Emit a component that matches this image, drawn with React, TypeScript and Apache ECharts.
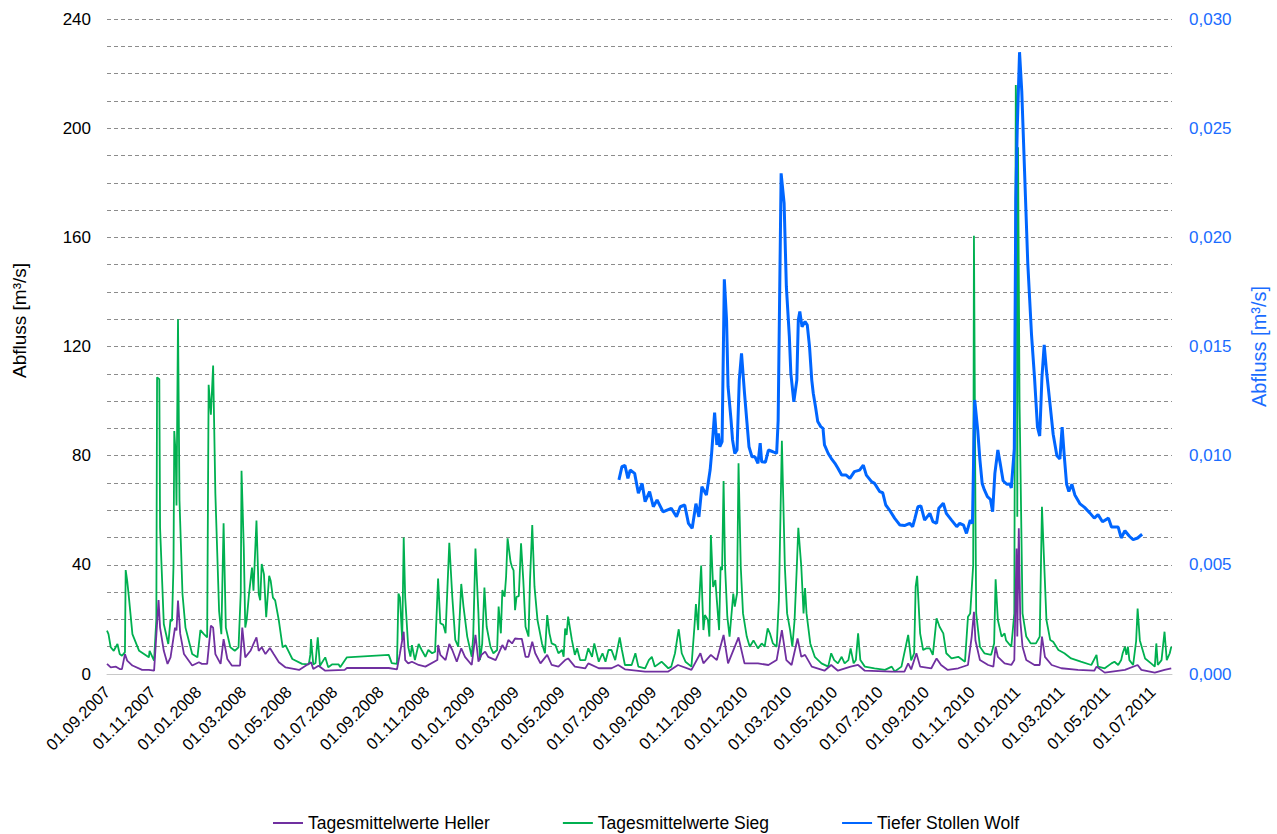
import React, { useEffect, useRef } from "react";
import * as echarts from "echarts";

// ---- tick labels (every two months) ----
const xTickLabels = [
  "01.09.2007", "01.11.2007", "01.01.2008", "01.03.2008", "01.05.2008", "01.07.2008",
  "01.09.2008", "01.11.2008", "01.01.2009", "01.03.2009", "01.05.2009", "01.07.2009",
  "01.09.2009", "01.11.2009", "01.01.2010", "01.03.2010", "01.05.2010", "01.07.2010",
  "01.09.2010", "01.11.2010", "01.01.2011", "01.03.2011", "01.05.2011", "01.07.2011",
];
const xMin = "2007-09-01";
const xMax = "2011-07-27";

// ---- Tagesmittelwerte Sieg [m³/s] ----
const siegDates = [
  "2007-09-01","2007-09-03","2007-09-06","2007-09-10","2007-09-15","2007-09-18","2007-09-21","2007-09-25","2007-09-26","2007-09-28",
  "2007-09-30","2007-10-05","2007-10-14","2007-10-27","2007-10-28","2007-11-03","2007-11-06","2007-11-07","2007-11-10","2007-11-11",
  "2007-11-16","2007-11-22","2007-11-25","2007-11-27","2007-11-29","2007-11-30","2007-12-02","2007-12-03","2007-12-05","2007-12-07",
  "2007-12-11","2007-12-15","2007-12-24","2007-12-31","2008-01-04","2008-01-08","2008-01-13","2008-01-15","2008-01-18","2008-01-21",
  "2008-01-24","2008-01-29","2008-02-01","2008-02-04","2008-02-07","2008-02-13","2008-02-19","2008-02-24","2008-02-27","2008-02-28",
  "2008-03-02","2008-03-04","2008-03-06","2008-03-09","2008-03-13","2008-03-15","2008-03-19","2008-03-22","2008-03-24","2008-03-26",
  "2008-03-29","2008-04-01","2008-04-05","2008-04-07","2008-04-10","2008-04-13","2008-04-18","2008-04-23","2008-04-27","2008-05-06",
  "2008-05-19","2008-05-28","2008-05-30","2008-05-31","2008-06-03","2008-06-06","2008-06-09","2008-06-12","2008-06-19","2008-06-23",
  "2008-06-28","2008-07-07","2008-07-09","2008-07-18","2008-09-12","2008-09-16","2008-09-23","2008-09-25","2008-09-27","2008-09-30",
  "2008-10-02","2008-10-04","2008-10-08","2008-10-11","2008-10-13","2008-10-17","2008-10-22","2008-10-26","2008-10-31","2008-11-04",
  "2008-11-09","2008-11-13","2008-11-17","2008-11-20","2008-11-24","2008-11-27","2008-12-02","2008-12-06","2008-12-10","2008-12-14",
  "2008-12-18","2008-12-21","2008-12-26","2009-01-01","2009-01-03","2009-01-06","2009-01-10","2009-01-12","2009-01-15","2009-01-18",
  "2009-01-21","2009-01-26","2009-01-30","2009-02-04","2009-02-06","2009-02-09","2009-02-11","2009-02-14","2009-02-16","2009-02-18",
  "2009-02-22","2009-02-24","2009-02-26","2009-02-28","2009-03-02","2009-03-05","2009-03-08","2009-03-11","2009-03-14","2009-03-18",
  "2009-03-20","2009-03-23","2009-03-26","2009-03-30","2009-04-05","2009-04-09","2009-04-12","2009-04-15","2009-04-18","2009-04-23",
  "2009-04-27","2009-05-02","2009-05-04","2009-05-06","2009-05-08","2009-05-10","2009-05-15","2009-05-19","2009-05-22","2009-05-26",
  "2009-06-02","2009-06-06","2009-06-11","2009-06-14","2009-06-20","2009-06-25","2009-06-29","2009-07-03","2009-07-07","2009-07-12",
  "2009-07-18","2009-07-21","2009-07-25","2009-08-03","2009-08-08","2009-08-12","2009-08-21","2009-08-26","2009-08-30","2009-09-03",
  "2009-09-12","2009-09-21","2009-09-25","2009-09-30","2009-10-04","2009-10-05","2009-10-09","2009-10-14","2009-10-22","2009-10-26",
  "2009-10-28","2009-10-31","2009-11-01","2009-11-04","2009-11-07","2009-11-09","2009-11-13","2009-11-15","2009-11-17","2009-11-20",
  "2009-11-23","2009-11-25","2009-11-28","2009-11-30","2009-12-02","2009-12-04","2009-12-06","2009-12-09","2009-12-12","2009-12-17",
  "2009-12-19","2009-12-22","2009-12-24","2009-12-27","2009-12-30","2010-01-04","2010-01-08","2010-01-13","2010-01-19","2010-01-24",
  "2010-01-28","2010-02-01","2010-02-04","2010-02-08","2010-02-13","2010-02-16","2010-02-20","2010-02-24","2010-02-27","2010-03-03",
  "2010-03-06","2010-03-09","2010-03-12","2010-03-14","2010-03-18","2010-03-21","2010-03-23","2010-03-25","2010-03-30","2010-04-05",
  "2010-04-14","2010-04-23","2010-04-27","2010-05-01","2010-05-06","2010-05-11","2010-05-15","2010-05-20","2010-05-23","2010-05-27",
  "2010-05-30","2010-06-02","2010-06-05","2010-06-11","2010-06-24","2010-07-08","2010-07-17","2010-07-21","2010-07-30","2010-08-08",
  "2010-08-12","2010-08-16","2010-08-18","2010-08-20","2010-08-24","2010-08-28","2010-09-01","2010-09-06","2010-09-10","2010-09-15",
  "2010-09-19","2010-09-24","2010-09-28","2010-10-05","2010-10-14","2010-10-23","2010-10-27","2010-10-30","2010-11-03","2010-11-04",
  "2010-11-06","2010-11-07","2010-11-12","2010-11-18","2010-11-27","2010-12-01","2010-12-03","2010-12-06","2010-12-11","2010-12-15",
  "2010-12-17","2010-12-24","2010-12-28","2010-12-30","2010-12-31","2011-01-01","2011-01-02","2011-01-04","2011-01-08","2011-01-13",
  "2011-01-19","2011-01-26","2011-01-31","2011-02-03","2011-02-06","2011-02-09","2011-02-14","2011-02-18","2011-02-25","2011-03-05",
  "2011-03-14","2011-03-27","2011-04-10","2011-04-17","2011-04-19","2011-04-28","2011-05-07","2011-05-11","2011-05-16","2011-05-20",
  "2011-05-22","2011-05-25","2011-05-27","2011-05-29","2011-05-31","2011-06-05","2011-06-09","2011-06-11","2011-06-14","2011-06-21",
  "2011-06-29","2011-07-04","2011-07-06","2011-07-08","2011-07-13","2011-07-17","2011-07-20","2011-07-24","2011-07-26",
];
const siegValues = [
  15.9, 14.6, 9.8, 8.5, 11, 7.3, 6.7, 8.0, 38.1, 34.2,
  29, 14.6, 8.5, 6.1, 8.5, 4.9, 20, 108.7, 108, 53.7,
  18.3, 11, 20, 19.4, 40, 89, 80, 61.7, 130, 63.5,
  29.3, 17, 7.3, 6.1, 16.1, 14.8, 13.4, 106, 95, 113,
  66, 23, 14.6, 55.2, 17, 9.8, 8.5, 9.8, 30, 74.5,
  46.4, 17, 20, 29.3, 39, 30.5, 56.2, 29.3, 27, 40.3,
  36.6, 20.8, 36, 34.2, 28, 27, 19.5, 9.8, 10.5, 5.5,
  3.7, 3.5, 7, 12.8, 3.5, 4, 13.4, 3, 6.1, 2.5,
  3.5, 3.5, 2.5, 6.1, 7.0, 4, 3.7, 29.5, 28, 12.5,
  50, 28, 10, 6.4, 10.6, 5.1, 11, 8.8, 6.3, 8.8,
  7.6, 8.2, 35, 18.6, 18, 14.9, 48.1, 28.3, 12.5, 10,
  33, 24.7, 13.7, 6.3, 13.7, 46, 22.2, 5.1, 11, 31.7,
  17.3, 10, 7.6, 8.8, 24.7, 14.9, 30.8, 28.3, 35.7, 49.7,
  41, 39.2, 38, 23.4, 28.3, 28.5, 47.9, 34.4, 17.3, 13.7,
  34.4, 54.6, 32, 19.8, 11.2, 7.6, 21.6, 14.9, 11.2, 10.6,
  7.6, 8.8, 6.3, 16.7, 14.3, 21, 12.5, 7, 9.4, 5.1,
  5.1, 9.4, 6.3, 11.2, 4.5, 7.6, 4.5, 8.8, 8.8, 5.1,
  13.4, 8.8, 3.3, 3.3, 7.6, 2.7, 2.1, 5.1, 6.3, 2.7,
  4.5, 2.1, 2.7, 7.6, 14.9, 16.4, 7.6, 4.5, 2.7, 17.3,
  25.6, 16.1, 24.7, 39.7, 16.1, 21.6, 19.8, 13.7, 50.9, 31.9,
  34.4, 27, 16.1, 39.3, 38.1, 70.7, 39.3, 21, 13.7, 29.5,
  24.7, 29.5, 77.2, 39.3, 22.2, 13.7, 10, 12.3, 9.4, 11.2,
  10, 16.7, 14.9, 11.2, 10, 27, 85.5, 39.3, 22.2, 16.1,
  10, 19.8, 39.3, 53.6, 39.3, 22.2, 31.5, 22.2, 11.2, 6.3,
  3.9, 2.7, 7.6, 5.1, 3.9, 6.3, 3.9, 5.1, 9.4, 3.9,
  5.1, 14.9, 5.1, 2.7, 2.1, 1.5, 2.7, 0.9, 2.7, 14.3,
  5, 7.6, 32, 36, 14.9, 8.8, 9.4, 9.4, 7, 20.4,
  17.3, 14.9, 7.6, 5.7, 6.3, 4.5, 21, 22.2, 40, 160.6,
  60, 22.2, 10, 7.6, 7, 11.2, 34.7, 19.8, 13.7, 14.9,
  12.3, 10, 22.2, 215.8, 204, 57.6, 193, 100, 22.2, 13.7,
  11.2, 11.2, 13.7, 61.3, 40.3, 19.8, 12.5, 11.8, 8.8, 7.6,
  5.7, 4.5, 3.3, 7, 2.7, 2.1, 3.9, 4.5, 3.3, 5.1,
  7.6, 10, 7, 10, 5.1, 3.3, 12, 24, 12.3, 5.7,
  3.9, 2.7, 11.2, 3.3, 5.1, 15.5, 5.1, 7.6, 10,
];

// ---- Tagesmittelwerte Heller [m³/s] ----
const hellerDates = [
  "2007-09-01","2007-09-06","2007-09-13","2007-09-18","2007-09-21","2007-09-25","2007-09-28","2007-10-05","2007-10-18","2007-10-27",
  "2007-11-03","2007-11-09","2007-11-11","2007-11-16","2007-11-21","2007-11-25","2007-12-01","2007-12-03","2007-12-05","2007-12-08",
  "2007-12-13","2007-12-24","2008-01-02","2008-01-06","2008-01-13","2008-01-18","2008-01-21","2008-01-24","2008-01-31","2008-02-04",
  "2008-02-09","2008-02-15","2008-02-26","2008-02-29","2008-03-04","2008-03-11","2008-03-15","2008-03-19","2008-03-22","2008-03-26",
  "2008-03-31","2008-04-06","2008-04-11","2008-04-18","2008-04-27","2008-05-15","2008-05-31","2008-06-03","2008-06-10","2008-06-19",
  "2008-07-15","2008-07-18","2008-09-12","2008-09-23","2008-09-27","2008-10-02","2008-10-04","2008-10-08","2008-10-13","2008-10-22",
  "2008-10-31","2008-11-16","2008-11-17","2008-11-20","2008-11-27","2008-12-02","2008-12-06","2008-12-12","2008-12-18","2008-12-23",
  "2009-01-01","2009-01-06","2009-01-10","2009-01-14","2009-01-19","2009-01-23","2009-02-02","2009-02-11","2009-02-15","2009-02-19",
  "2009-02-24","2009-02-28","2009-03-05","2009-03-09","2009-03-14","2009-03-18","2009-03-23","2009-03-27","2009-04-03","2009-04-12",
  "2009-04-18","2009-04-27","2009-05-06","2009-05-10","2009-05-19","2009-06-02","2009-06-06","2009-06-20","2009-07-07","2009-07-16",
  "2009-07-25","2009-08-21","2009-09-21","2009-10-04","2009-10-22","2009-11-03","2009-11-07","2009-11-17","2009-11-25","2009-12-04",
  "2009-12-10","2009-12-24","2010-01-01","2010-01-19","2010-02-02","2010-02-13","2010-02-20","2010-02-26","2010-03-05","2010-03-13",
  "2010-03-18","2010-03-23","2010-04-01","2010-04-18","2010-04-27","2010-05-06","2010-05-23","2010-06-02","2010-06-11","2010-07-17",
  "2010-08-03","2010-08-08","2010-08-12","2010-08-19","2010-08-24","2010-09-08","2010-09-15","2010-09-21","2010-09-30","2010-10-14",
  "2010-10-27","2010-11-01","2010-11-04","2010-11-06","2010-11-12","2010-11-23","2010-11-30","2010-12-03","2010-12-06","2010-12-15",
  "2010-12-24","2010-12-28","2010-12-31","2011-01-01","2011-01-03","2011-01-05","2011-01-08","2011-01-13","2011-01-24","2011-01-31",
  "2011-02-03","2011-02-07","2011-02-16","2011-03-01","2011-03-23","2011-04-14","2011-04-17","2011-04-28","2011-05-25","2011-06-11",
  "2011-06-16","2011-07-04","2011-07-17","2011-07-26",
];
const hellerValues = [
  3.7, 2.4, 2.7, 1.8, 1.8, 7.3, 4.9, 3.1, 1.5, 1.5,
  1.2, 27.1, 17, 8.5, 3.7, 6.1, 17, 16, 26.9, 14.7,
  7.3, 3.1, 4.3, 3.7, 3.7, 17.7, 17, 7.3, 3.7, 12.8,
  5.5, 3.1, 3.1, 17, 6.1, 8.5, 11, 13.4, 8.5, 9.8,
  7.3, 9.5, 7.3, 4.3, 2.4, 1.5, 4.3, 1.8, 3, 1.2,
  1.5, 2.2, 2.2, 1.7, 7.6, 15.5, 5.1, 3.9, 4.5, 3.3,
  2.7, 5.1, 10.6, 7, 5.1, 11, 8.8, 4.5, 9.4, 6.3,
  3.3, 14.3, 4.5, 7, 8.2, 6.3, 5.1, 10.6, 8.8, 12.5,
  11.2, 13, 12.9, 12.9, 6.3, 6.3, 11.8, 7.6, 3.9, 7,
  3.3, 2.7, 5.1, 5.7, 2.7, 2.1, 3.9, 2.1, 2.1, 3.3,
  1.7, 0.9, 0.9, 3.3, 1.5, 7.6, 3.9, 7, 5.1, 14.3,
  3.9, 13.4, 3.9, 3.9, 3.3, 5.1, 16.1, 5.1, 3.3, 13,
  6.3, 7, 2.7, 1.2, 3.3, 1.2, 2.7, 3.3, 1.2, 0.9,
  0.9, 3.9, 1.7, 7.6, 2.7, 2.1, 5.7, 3.3, 1.5, 2.1,
  3.3, 13.7, 22.8, 12.3, 5.1, 3.3, 2.7, 10, 6.3, 3.9,
  3.3, 5.1, 46, 13.7, 53.4, 19.8, 10, 5.1, 3.3, 3.3,
  13.7, 6.3, 3.3, 2.1, 1.5, 1.2, 2.7, 0.5, 1.5, 3.3,
  1.5, 0.5, 1.5, 2.1,
];

// ---- Tiefer Stollen Wolf [m³/s], right axis ----
const wolfDates = [
  "2009-07-17","2009-07-21","2009-07-25","2009-07-29","2009-08-01","2009-08-07","2009-08-12","2009-08-17","2009-08-21","2009-08-27",
  "2009-09-01","2009-09-06","2009-09-14","2009-09-25","2009-10-02","2009-10-07","2009-10-13","2009-10-18","2009-10-23","2009-10-28",
  "2009-11-01","2009-11-05","2009-11-11","2009-11-16","2009-11-18","2009-11-22","2009-11-25","2009-11-27","2009-11-29","2009-12-02",
  "2009-12-05","2009-12-08","2009-12-10","2009-12-14","2009-12-16","2009-12-19","2009-12-22","2009-12-25","2009-12-28","2010-01-01",
  "2010-01-04","2010-01-07","2010-01-11","2010-01-15","2010-01-19","2010-01-22","2010-01-24","2010-01-29","2010-02-02","2010-02-08",
  "2010-02-13","2010-02-15","2010-02-19","2010-02-23","2010-02-26","2010-03-02","2010-03-04","2010-03-08","2010-03-12","2010-03-14",
  "2010-03-16","2010-03-19","2010-03-23","2010-03-26","2010-03-29","2010-04-01","2010-04-03","2010-04-06","2010-04-09","2010-04-13",
  "2010-04-16","2010-04-18","2010-04-23","2010-04-27","2010-05-02","2010-05-06","2010-05-11","2010-05-17","2010-05-22","2010-05-28",
  "2010-06-04","2010-06-09","2010-06-13","2010-06-20","2010-06-24","2010-07-01","2010-07-05","2010-07-09","2010-07-14","2010-07-21",
  "2010-07-28","2010-08-03","2010-08-10","2010-08-14","2010-08-17","2010-08-21","2010-08-25","2010-08-30","2010-09-06","2010-09-10",
  "2010-09-15","2010-09-18","2010-09-24","2010-09-28","2010-10-05","2010-10-12","2010-10-16","2010-10-21","2010-10-25","2010-10-30",
  "2010-11-02","2010-11-05","2010-11-09","2010-11-12","2010-11-15","2010-11-18","2010-11-22","2010-11-26","2010-11-29","2010-12-02",
  "2010-12-06","2010-12-09","2010-12-13","2010-12-18","2010-12-22","2010-12-24","2010-12-28","2010-12-30","2011-01-01","2011-01-04",
  "2011-01-07","2011-01-12","2011-01-15","2011-01-20","2011-01-24","2011-01-28","2011-01-31","2011-02-03","2011-02-06","2011-02-09",
  "2011-02-14","2011-02-18","2011-02-23","2011-02-27","2011-03-02","2011-03-05","2011-03-08","2011-03-11","2011-03-15","2011-03-19",
  "2011-03-26","2011-04-01","2011-04-08","2011-04-14","2011-04-19","2011-04-25","2011-05-03","2011-05-07","2011-05-16","2011-05-20",
  "2011-05-25","2011-05-31","2011-06-05","2011-06-11","2011-06-17",
];
const wolfValues = [
  0.00889, 0.0095, 0.00956, 0.00896, 0.00934, 0.00919, 0.00828, 0.00873, 0.00789, 0.00835,
  0.00766, 0.00797, 0.00743, 0.00759, 0.0072, 0.00766, 0.00774, 0.0069, 0.00667, 0.0078,
  0.0072, 0.00858, 0.0082, 0.00934, 0.0101, 0.01197, 0.01049, 0.01102, 0.01041, 0.01064,
  0.01808, 0.01621, 0.01316, 0.01163, 0.01072, 0.0101, 0.01026, 0.01346, 0.01469, 0.01286,
  0.01163, 0.01041, 0.00995, 0.00995, 0.00965, 0.01057, 0.00972, 0.0097, 0.01026, 0.01018,
  0.0101, 0.0116, 0.02293, 0.02156, 0.01774, 0.01545, 0.01377, 0.01247, 0.01346, 0.01621,
  0.0166, 0.0159, 0.01614, 0.01598, 0.01499, 0.01346, 0.01286, 0.01224, 0.01156, 0.01133,
  0.01125, 0.01049, 0.0101, 0.00988, 0.00965, 0.00942, 0.00911, 0.00911, 0.00896, 0.00927,
  0.00934, 0.00957, 0.00911, 0.00881, 0.00873, 0.00835, 0.0083, 0.00774, 0.00751, 0.00713,
  0.00682, 0.0068, 0.0069, 0.00675, 0.00713, 0.00766, 0.0077, 0.00705, 0.00736, 0.00698,
  0.0069, 0.00759, 0.00782, 0.00736, 0.00705, 0.00675, 0.0069, 0.00682, 0.00644, 0.00705,
  0.0069, 0.01255, 0.01118, 0.0098, 0.00873, 0.00843, 0.00812, 0.008, 0.00743, 0.00919,
  0.01026, 0.00967, 0.00885, 0.00869, 0.0087, 0.00852, 0.01032, 0.02177, 0.02505, 0.02848,
  0.02668, 0.02177, 0.01883, 0.01556, 0.0136, 0.01131, 0.0109, 0.0136, 0.01507, 0.0139,
  0.01229, 0.01098, 0.01, 0.00985, 0.01131, 0.00992, 0.00869, 0.00836, 0.00869, 0.0082,
  0.00779, 0.00763, 0.00738, 0.00714, 0.0073, 0.00697, 0.00714, 0.00673, 0.00673, 0.00623,
  0.00656, 0.00631, 0.00615, 0.00623, 0.0064,
];

const FONT = "'Liberation Sans', Arial, sans-serif";
const COLOR_HELLER = "#7030a0";
const COLOR_SIEG = "#00b050";
const COLOR_WOLF = "#0066ff";
const COLOR_RIGHT_TEXT = "#1a6cff";

function parseDE(s: string): number {
  const [d, m, y] = s.split(".").map(Number);
  return new Date(y, m - 1, d).getTime();
}
function parseISO(s: string): number {
  const [y, m, d] = s.split("-").map(Number);
  return new Date(y, m - 1, d).getTime();
}
function fmtDE(v: number): string {
  const dt = new Date(v);
  const dd = String(dt.getDate()).padStart(2, "0");
  const mm = String(dt.getMonth() + 1).padStart(2, "0");
  return `${dd}.${mm}.${dt.getFullYear()}`;
}
function pairs(dates: string[], values: number[]) {
  return dates.map((d, i) => [parseISO(d), values[i]]);
}

export default function App() {
  const ref = useRef<HTMLDivElement>(null);
  useEffect(() => {
    if (!ref.current) return;
    const chart = echarts.init(ref.current, undefined, { renderer: "svg" });
    const tickTimes = xTickLabels.map(parseDE);
    const gridLine = { show: true, lineStyle: { color: "#8c8c8c", type: [4, 3] as any, width: 1 } };
    chart.setOption({
      animation: false,
      backgroundColor: "#ffffff",
      textStyle: { fontFamily: FONT },
      grid: { left: 107, right: 104, top: 19, bottom: 160, containLabel: false },
      legend: {
        data: ["Tagesmittelwerte Heller", "Tagesmittelwerte Sieg", "Tiefer Stollen Wolf"],
        left: 272,
        top: 814,
        padding: 0,
        itemGap: 72,
        itemWidth: 30,
        itemHeight: 14,
        itemStyle: { opacity: 0, borderWidth: 0 },
        textStyle: { fontFamily: FONT, fontSize: 17.5, color: "#000" },
      },
      xAxis: {
        type: "value",
        min: parseISO(xMin),
        max: parseISO(xMax),
        axisLine: { show: true, lineStyle: { color: "#c8c8c8", width: 1 } },
        axisTick: { show: false },
        splitLine: { show: false },
        axisLabel: {
          customValues: tickTimes,
          rotate: 45,
          margin: 15,
          hideOverlap: false,
          showMinLabel: true,
          fontFamily: FONT,
          fontSize: 16.5,
          color: "#000",
          formatter: (v: number) => fmtDE(v),
        },
      },
      yAxis: [
        {
          type: "value",
          min: 0,
          max: 240,
          interval: 10,
          name: "Abfluss [m³/s]",
          nameLocation: "middle",
          nameRotate: 90,
          nameGap: 78,
          nameTextStyle: { fontFamily: FONT, fontSize: 19, color: "#000", padding: [0, 0, 0, 52] },
          axisLine: { show: false },
          axisTick: { show: false },
          splitLine: gridLine,
          axisLabel: {
            fontFamily: FONT,
            fontSize: 17,
            color: "#000",
            margin: 16,
            formatter: (v: number) => (v % 40 === 0 ? String(v) : ""),
          },
        },
        {
          type: "value",
          min: 0,
          max: 0.03,
          interval: 0.005,
          position: "right",
          name: "Abfluss [m³/s]",
          nameLocation: "middle",
          nameRotate: 90,
          nameGap: 77,
          nameTextStyle: { fontFamily: FONT, fontSize: 20, color: COLOR_RIGHT_TEXT },
          axisLine: { show: false },
          axisTick: { show: false },
          splitLine: { show: false },
          axisLabel: {
            fontFamily: FONT,
            fontSize: 17,
            color: COLOR_RIGHT_TEXT,
            margin: 17,
            formatter: (v: number) => v.toFixed(3).replace(".", ","),
          },
        },
      ],
      series: [
        {
          name: "Tagesmittelwerte Heller",
          type: "line",
          yAxisIndex: 0,
          data: pairs(hellerDates, hellerValues),
          symbol: "none",
          showSymbol: false,
          z: 3,
          lineStyle: { color: COLOR_HELLER, width: 1.8 },
          itemStyle: { color: COLOR_HELLER },
        },
        {
          name: "Tagesmittelwerte Sieg",
          type: "line",
          yAxisIndex: 0,
          data: pairs(siegDates, siegValues),
          symbol: "none",
          showSymbol: false,
          z: 2,
          lineStyle: { color: COLOR_SIEG, width: 1.8 },
          itemStyle: { color: COLOR_SIEG },
        },
        {
          name: "Tiefer Stollen Wolf",
          type: "line",
          yAxisIndex: 1,
          data: pairs(wolfDates, wolfValues),
          symbol: "none",
          showSymbol: false,
          z: 4,
          lineStyle: { color: COLOR_WOLF, width: 3 },
          itemStyle: { color: COLOR_WOLF },
        },
      ],
    });
    return () => chart.dispose();
  }, []);
  return (
    <div
      ref={ref}
      style={{ position: "fixed", left: 0, top: 0, width: 1277, height: 834, background: "#fff" }}
    />
  );
}
